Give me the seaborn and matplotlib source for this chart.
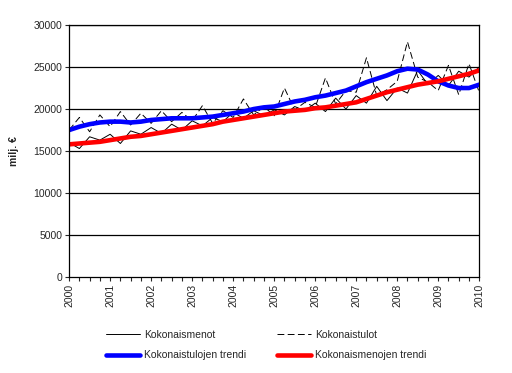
import matplotlib
matplotlib.use("Agg")
import matplotlib.pyplot as plt
import seaborn as sns
import numpy as np
import pandas as pd

# quarterly observations, 2000Q1 .. 2010Q1
quarters = np.arange(41) / 4 + 2000

menot = [16000, 15300, 16700, 16300,
         17000, 15900, 17400, 17000,
         17800, 17100, 18200, 17500,
         18600, 18000, 19000, 18500,
         19600, 18900, 19800, 19200,
         19900, 19300, 20300, 19800,
         20700, 19700, 21300, 20000,
         21600, 20700, 22700, 21000,
         22500, 21900, 24600, 22900,
         24000, 22800, 24500, 23800,
         25000]

tulot = [17500, 19000, 17300, 19300,
         17900, 19700, 18100, 19500,
         18300, 19800, 18500, 19600,
         18600, 20400, 18300, 19800,
         19000, 21200, 19300, 20300,
         19200, 22500, 19900, 20800,
         20200, 23700, 20600, 22200,
         22000, 26100, 21600, 22300,
         23300, 28000, 23800, 23200,
         22200, 25200, 21700, 25400,
         22000]

tulot_trendi = [17500, 17900, 18200, 18400,
                18500, 18500, 18400, 18500,
                18700, 18800, 18900, 18900,
                18900, 19000, 19100, 19300,
                19500, 19700, 20000, 20200,
                20300, 20600, 20900, 21100,
                21400, 21600, 21900, 22200,
                22700, 23200, 23600, 24000,
                24500, 24800, 24700, 24100,
                23300, 22800, 22500, 22500,
                22900]

menot_trendi = [15800, 15900, 16000, 16100,
                16300, 16500, 16700, 16800,
                17000, 17200, 17400, 17600,
                17800, 18000, 18200, 18500,
                18700, 18900, 19100, 19300,
                19500, 19700, 19800, 19900,
                20100, 20200, 20400, 20600,
                20800, 21200, 21600, 22000,
                22300, 22600, 22900, 23100,
                23300, 23600, 23900, 24200,
                24600]

years = list(range(2000, 2011))

df = pd.DataFrame({
    "aika": quarters,
    "Kokonaismenot": menot,
    "Kokonaistulot": tulot,
    "Kokonaistulojen trendi": tulot_trendi,
    "Kokonaismenojen trendi": menot_trendi,
})

sns.set_style("white")
plt.rcParams["font.family"] = ["Liberation Sans", "DejaVu Sans"]

fig = plt.figure(figsize=(5.12, 3.73), dpi=100)
ax = fig.add_axes([0.135, 0.257, 0.801, 0.676])

for y in range(5000, 30001, 5000):
    ax.axhline(y, color="black", lw=0.9, zorder=0)

sns.lineplot(data=df, x="aika", y="Kokonaismenot", ax=ax, color="black",
             lw=0.7, label="Kokonaismenot")
sns.lineplot(data=df, x="aika", y="Kokonaistulot", ax=ax, color="black",
             lw=0.7, dashes=(7, 3.5), label="Kokonaistulot")
sns.lineplot(data=df, x="aika", y="Kokonaistulojen trendi", ax=ax,
             color="#0000ff", lw=3.3, label="Kokonaistulojen trendi")
sns.lineplot(data=df, x="aika", y="Kokonaismenojen trendi", ax=ax,
             color="#ff0000", lw=3.3, label="Kokonaismenojen trendi")

ax.set_xlim(2000, 2010)
ax.set_ylim(0, 30000)
ax.set_yticks(range(0, 30001, 5000))
ax.set_xticks(years)
ax.set_xticklabels([str(y) for y in years], rotation=90, fontsize=7.5)
ax.set_xticks(quarters, minor=True)
ax.tick_params(axis="y", labelsize=7.5, length=3, width=0.8, direction="out",
               left=True, pad=2)
ax.tick_params(axis="x", which="both", length=3, width=0.8, direction="out",
               bottom=True, pad=2)
ax.set_xlabel("")
ax.set_ylabel("milj. €", fontsize=7.5, fontweight="bold", labelpad=10)
for s in ax.spines.values():
    s.set_color("black")
    s.set_linewidth(0.9)

handles, labels = ax.get_legend_handles_labels()
ax.get_legend().remove()
order = [0, 2, 1, 3]
fig.legend([handles[i] for i in order], [labels[i] for i in order],
           loc="center", bbox_to_anchor=(0.52, 0.075), ncol=2, frameon=False,
           fontsize=7.5, handlelength=3.2, columnspacing=3, handletextpad=0.4,
           labelspacing=1.0)

fig.savefig("out.png", dpi=100)
